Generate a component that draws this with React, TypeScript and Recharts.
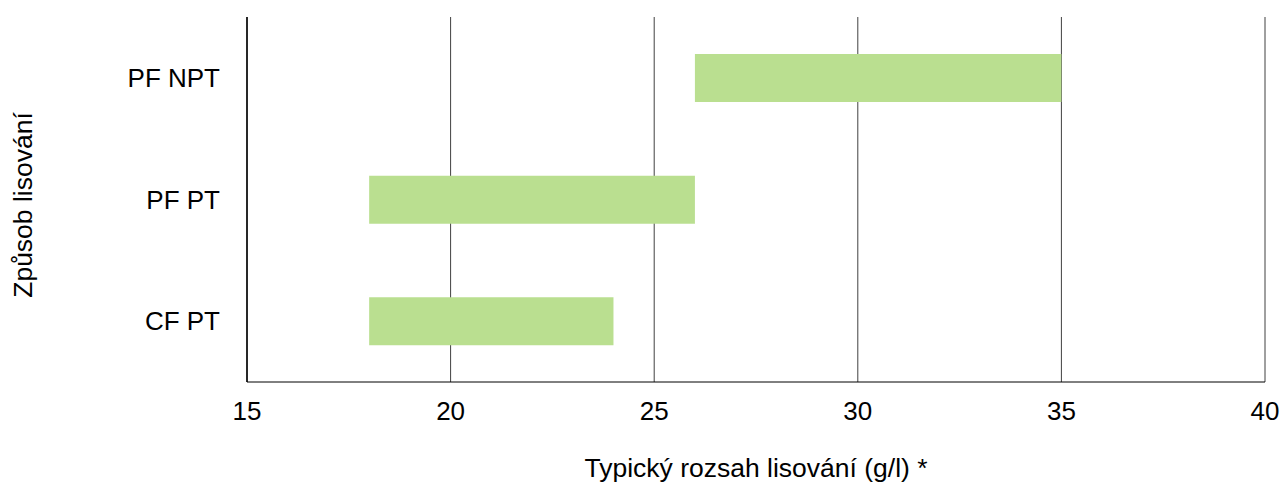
import React from "react";
import { Bar, BarChart, CartesianGrid, XAxis, YAxis } from "recharts";

const categories = ["PF NPT", "PF PT", "CF PT"];
const lowValues = [26, 18, 18];
const highValues = [35, 26, 24];
const xTicks = [15, 20, 25, 30, 35, 40];

const FONT = "'Liberation Sans', Arial, sans-serif";

const data = categories.map((name, i) => ({
  name,
  range: [lowValues[i], highValues[i]],
}));

const XTitle = (props: any) => {
  const { viewBox } = props;
  return (
    <text
      x={viewBox.x + viewBox.width / 2}
      y={477}
      textAnchor="middle"
      fontSize={26.5}
      fontFamily={FONT}
      fill="#000"
    >
      Typický rozsah lisování (g/l) *
    </text>
  );
};

const YTitle = () => {
  const cx = 32;
  const cy = 205;
  return (
    <text
      x={cx}
      y={cy}
      transform={`rotate(-90 ${cx} ${cy})`}
      textAnchor="middle"
      fontSize={26.5}
      fontFamily={FONT}
      fill="#000"
    >
      Způsob lisování
    </text>
  );
};

const App: React.FC = () => {
  return (
    <div style={{ position: "absolute", left: 0, top: 0, background: "#fff" }}>
      <BarChart
        width={1282}
        height={484}
        data={data}
        layout="vertical"
        margin={{ top: 17, right: 17, bottom: 0, left: 0 }}
        barSize={48}
      >
        <CartesianGrid horizontal={false} stroke="#404040" strokeWidth={1} />
        <XAxis
          type="number"
          domain={[15, 40]}
          ticks={xTicks}
          allowDataOverflow
          height={102}
          tickLine={false}
          tickSize={0}
          tickMargin={20}
          axisLine={{ stroke: "#000", strokeWidth: 1 }}
          tick={{ fontSize: 26, fontFamily: FONT, fill: "#000" }}
          label={<XTitle />}
        />
        <YAxis
          type="category"
          dataKey="name"
          width={247}
          tickLine={false}
          tickSize={0}
          tickMargin={27}
          axisLine={{ stroke: "#000", strokeWidth: 1.5 }}
          tick={{ fontSize: 26, fontFamily: FONT, fill: "#000" }}
          label={<YTitle />}
        />
        <Bar dataKey="range" fill="#BADF90" isAnimationActive={false} />
      </BarChart>
    </div>
  );
};

export default App;
